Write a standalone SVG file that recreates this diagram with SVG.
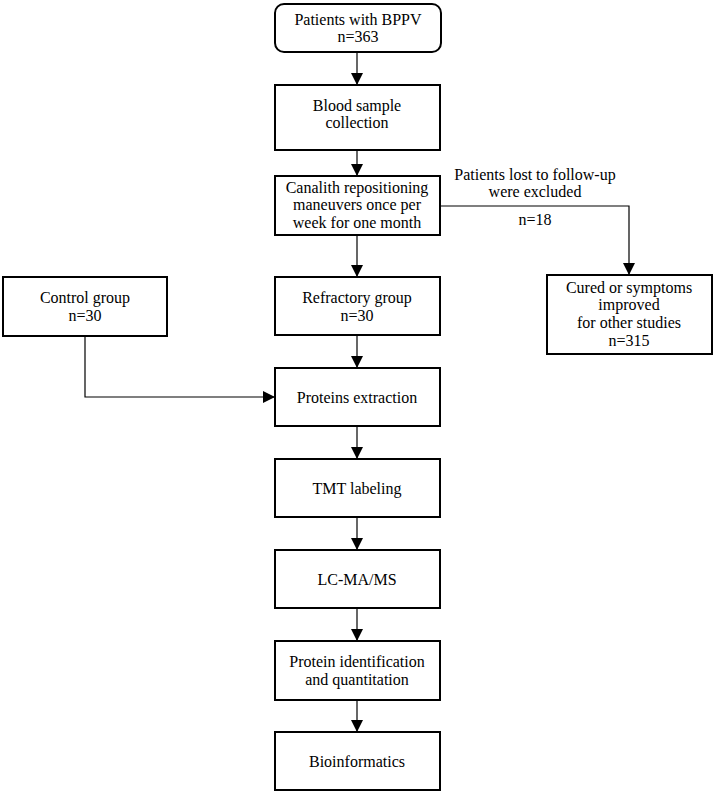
<svg xmlns="http://www.w3.org/2000/svg" width="716" height="796" viewBox="0 0 716 796" font-family="Liberation Serif, DejaVu Serif, serif">
<style>
.box{fill:#fff;stroke:#000;stroke-width:2}
text{font-size:16px;fill:#000;text-anchor:middle}
.c{fill:none;stroke:#000;stroke-width:1.2}
</style>
<defs>
<marker id="ah" viewBox="0 0 12 12" refX="12" refY="6" markerWidth="12" markerHeight="12" markerUnits="userSpaceOnUse" orient="auto">
<path d="M0,0 L12,6 L0,12 Z" fill="#000"/>
</marker>
</defs>
<rect width="716" height="796" fill="#fff"/>
<g id="connectors">
<line class="c" x1="357" y1="52" x2="357" y2="85" marker-end="url(#ah)"/>
<line class="c" x1="357" y1="150" x2="357" y2="176" marker-end="url(#ah)"/>
<line class="c" x1="357" y1="235" x2="357" y2="277" marker-end="url(#ah)"/>
<polyline class="c" points="440,206 629,206 629,275" marker-end="url(#ah)"/>
<line class="c" x1="357" y1="335" x2="357" y2="368" marker-end="url(#ah)"/>
<polyline class="c" points="85,336 85,397 275,397" marker-end="url(#ah)"/>
<line class="c" x1="357" y1="426" x2="357" y2="459" marker-end="url(#ah)"/>
<line class="c" x1="357" y1="517" x2="357" y2="550" marker-end="url(#ah)"/>
<line class="c" x1="357" y1="608" x2="357" y2="641" marker-end="url(#ah)"/>
<line class="c" x1="357" y1="700" x2="357" y2="732" marker-end="url(#ah)"/>
<text x="535" y="180">Patients lost to follow-up</text>
<text x="535" y="197">were excluded</text>
<text x="535" y="225">n=18</text>
</g>
<g id="n1"><rect class="box" x="275" y="4" width="166" height="48" rx="9"/>
<text x="358" y="25">Patients with BPPV</text><text x="358" y="42">n=363</text></g>
<g id="n2"><rect class="box" x="275" y="85" width="165" height="65"/>
<text x="357" y="111">Blood sample</text><text x="357" y="128">collection</text></g>
<g id="n3"><rect class="box" x="275" y="176" width="165" height="59"/>
<text x="357" y="193">Canalith repositioning</text><text x="357" y="210">maneuvers once per</text><text x="357" y="228">week for one month</text></g>
<g id="n4"><rect class="box" x="275" y="277" width="165" height="58"/>
<text x="357" y="303">Refractory group</text><text x="357" y="321">n=30</text></g>
<g id="n5"><rect class="box" x="547" y="275" width="165" height="79"/>
<text x="629" y="293">Cured or symptoms</text><text x="629" y="310">improved</text><text x="629" y="328">for other studies</text><text x="629" y="346">n=315</text></g>
<g id="n6"><rect class="box" x="3" y="277" width="164" height="59"/>
<text x="85" y="303">Control group</text><text x="85" y="321">n=30</text></g>
<g id="n7"><rect class="box" x="275" y="368" width="165" height="58"/>
<text x="357" y="403">Proteins extraction</text></g>
<g id="n8"><rect class="box" x="275" y="459" width="165" height="58"/>
<text x="357" y="494">TMT labeling</text></g>
<g id="n9"><rect class="box" x="275" y="550" width="165" height="58"/>
<text x="357" y="585">LC-MA/MS</text></g>
<g id="n10"><rect class="box" x="275" y="641" width="165" height="59"/>
<text x="357" y="667">Protein identification</text><text x="357" y="685">and quantitation</text></g>
<g id="n11"><rect class="box" x="275" y="732" width="165" height="58"/>
<text x="357" y="767">Bioinformatics</text></g>
</svg>
